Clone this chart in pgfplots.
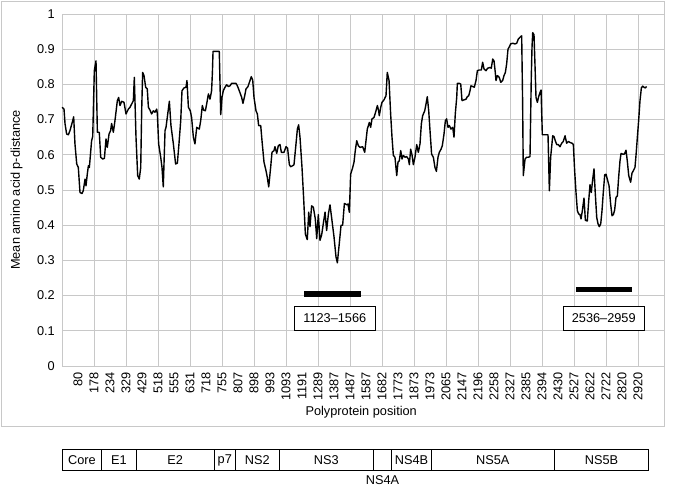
\documentclass[border=0pt]{standalone}
\usepackage{pgfplots}
\pgfplotsset{compat=1.18}
\usepackage{fontspec}
\setmainfont{Liberation Sans}
\definecolor{gridgray}{RGB}{200,200,200}
\begin{document}
\begin{tikzpicture}[font=\fontsize{12.8}{15}\selectfont]
\path[use as bounding box] (0,0) rectangle (674bp,-489bp);
\draw[gridgray, line width=1bp] (1bp,-1bp) rectangle (664bp,-426bp);
\begin{axis}[
 at={(62bp,-14bp)}, anchor=north west,
 scale only axis, width=602bp, height=352bp,
 xmin=-1, xmax=36.625, ymin=0, ymax=1,
 xtick={0,...,35},
 xticklabels={80,178,234,329,429,518,555,631,718,755,807,898,993,1093,1191,1289,1387,1487,1587,1682,1773,1873,1973,2065,2147,2196,2258,2327,2385,2394,2430,2527,2622,2722,2820,2920},
 extra x ticks={1,3,5,7,9,11,13,15,17,19,21,23,25,27,29,31,33,35},
 extra x tick labels={},
 extra x tick style={grid=major},
 ytick={0,0.1,0.2,0.3,0.4,0.5,0.6,0.7,0.8,0.9,1},
 yticklabels={0,0.1,0.2,0.3,0.4,0.5,0.6,0.7,0.8,0.9,1},
 ymajorgrids,
 grid style={gridgray, line width=1bp},
 axis line style={gridgray, line width=1bp},
 major tick length=0pt,
 xticklabel style={rotate=90, anchor=east, inner sep=0pt},
 xticklabel shift=6bp,
 yticklabel style={inner sep=0pt},
 yticklabel shift=7bp,
 /pgf/number format/assume math mode=true,
 xlabel={Polyprotein position},
 ylabel={Mean amino acid p-distance},
 xlabel style={at={(axis description cs:0.497,-0.1307)}, anchor=center},
 ylabel style={at={(axis description cs:-0.0753,0.5)}, anchor=center},
 clip=false,
]
\addplot[black, line width=1.4bp, line join=round] coordinates {
(-1.00,0.735) (-0.875,0.730) (-0.81,0.688) (-0.71,0.659) (-0.60,0.657) (-0.50,0.669) (-0.33,0.697) (-0.27,0.708)
(-0.19,0.631) (-0.08,0.574) (0.02,0.564) (0.125,0.493) (0.25,0.490) (0.33,0.498) (0.44,0.531) (0.50,0.512)
(0.58,0.545) (0.65,0.569) (0.71,0.564) (0.85,0.640) (0.92,0.652) (1.02,0.839) (1.125,0.867) (1.21,0.664)
(1.33,0.664) (1.42,0.593) (1.54,0.588) (1.65,0.590) (1.75,0.645) (1.83,0.621) (1.94,0.659) (2.04,0.669)
(2.10,0.689) (2.21,0.664) (2.31,0.697) (2.46,0.754) (2.54,0.763) (2.625,0.740) (2.73,0.752) (2.875,0.749)
(3.00,0.716) (3.15,0.730) (3.25,0.735) (3.35,0.744) (3.46,0.754) (3.52,0.820) (3.625,0.650) (3.73,0.541)
(3.83,0.531) (3.92,0.564) (3.98,0.725) (4.04,0.834) (4.125,0.825) (4.23,0.792) (4.33,0.787) (4.40,0.735)
(4.50,0.727) (4.60,0.716) (4.71,0.725) (4.81,0.721) (4.92,0.730) (4.96,0.716) (5.04,0.631) (5.17,0.593)
(5.25,0.564) (5.33,0.509) (5.44,0.669) (5.50,0.678) (5.58,0.706) (5.71,0.752) (5.81,0.683) (5.96,0.631)
(6.10,0.574) (6.21,0.576) (6.31,0.631) (6.42,0.697) (6.50,0.782) (6.625,0.790) (6.75,0.792) (6.81,0.811)
(6.90,0.735) (7.02,0.725) (7.10,0.706) (7.21,0.650) (7.31,0.631) (7.42,0.678) (7.58,0.673) (7.67,0.697)
(7.77,0.740) (7.85,0.727) (7.96,0.725) (8.04,0.744) (8.15,0.773) (8.25,0.758) (8.35,0.782) (8.40,0.834)
(8.44,0.894) (8.83,0.894) (8.92,0.714) (9.00,0.763) (9.08,0.782) (9.19,0.792) (9.29,0.799) (9.40,0.794)
(9.50,0.796) (9.60,0.803) (9.71,0.803) (9.875,0.803) (9.96,0.796) (10.08,0.782) (10.23,0.763) (10.31,0.746)
(10.42,0.768) (10.50,0.787) (10.625,0.794) (10.75,0.811) (10.83,0.822) (10.92,0.812) (11.00,0.763) (11.125,0.725)
(11.21,0.716) (11.29,0.683) (11.42,0.683) (11.50,0.640) (11.625,0.579) (11.75,0.555) (11.83,0.536) (11.92,0.509)
(12.04,0.564) (12.125,0.607) (12.25,0.612) (12.31,0.623) (12.42,0.604) (12.52,0.626) (12.625,0.629) (12.71,0.607)
(12.875,0.607) (13.00,0.623) (13.10,0.619) (13.21,0.572) (13.29,0.566) (13.42,0.569) (13.50,0.572) (13.625,0.631)
(13.71,0.673) (13.79,0.685) (13.875,0.650) (14.00,0.564) (14.10,0.479) (14.21,0.375) (14.33,0.359) (14.42,0.437)
(14.50,0.396) (14.60,0.455) (14.71,0.451) (14.83,0.418) (14.92,0.362) (15.02,0.430) (15.125,0.357) (15.23,0.373)
(15.33,0.404) (15.44,0.437) (15.54,0.385) (15.65,0.432) (15.75,0.458) (15.85,0.422) (16.00,0.367) (16.125,0.310)
(16.21,0.293) (16.33,0.348) (16.44,0.400) (16.54,0.400) (16.65,0.462) (16.79,0.458) (16.875,0.460) (16.96,0.437)
(17.04,0.545) (17.17,0.564) (17.25,0.579) (17.33,0.612) (17.42,0.640) (17.52,0.626) (17.625,0.621) (17.79,0.623)
(17.92,0.607) (18.00,0.640) (18.08,0.673) (18.21,0.692) (18.29,0.678) (18.375,0.702) (18.50,0.706) (18.625,0.725)
(18.71,0.740) (18.79,0.725) (18.83,0.711) (18.92,0.735) (19.00,0.749) (19.125,0.756) (19.25,0.768) (19.33,0.834)
(19.44,0.811) (19.54,0.716) (19.625,0.650) (19.71,0.598) (19.81,0.593) (19.92,0.541) (20.00,0.579) (20.08,0.583)
(20.17,0.612) (20.25,0.588) (20.33,0.598) (20.44,0.593) (20.54,0.595) (20.65,0.588) (20.71,0.572) (20.79,0.616)
(20.875,0.600) (20.96,0.572) (21.06,0.593) (21.17,0.629) (21.27,0.607) (21.375,0.631) (21.46,0.688) (21.54,0.711)
(21.67,0.725) (21.75,0.744) (21.83,0.765) (21.92,0.725) (22.00,0.669) (22.10,0.602) (22.21,0.593) (22.31,0.564)
(22.40,0.553) (22.50,0.593) (22.58,0.607) (22.69,0.616) (22.77,0.626) (22.875,0.659) (22.96,0.697) (23.04,0.702)
(23.125,0.678) (23.21,0.683) (23.31,0.673) (23.42,0.678) (23.50,0.650) (23.58,0.716) (23.67,0.763) (23.71,0.803)
(23.83,0.803) (23.92,0.801) (24.00,0.754) (24.125,0.756) (24.25,0.758) (24.33,0.765) (24.42,0.768) (24.50,0.782)
(24.56,0.796) (24.67,0.794) (24.77,0.792) (24.875,0.811) (24.96,0.839) (25.08,0.841) (25.21,0.841) (25.29,0.863)
(25.375,0.844) (25.50,0.839) (25.60,0.846) (25.75,0.848) (25.83,0.846) (25.92,0.872) (26.00,0.867) (26.08,0.834)
(26.125,0.811) (26.21,0.825) (26.33,0.820) (26.42,0.806) (26.54,0.811) (26.625,0.825) (26.71,0.834) (26.79,0.858)
(26.875,0.900) (26.96,0.907) (27.04,0.915) (27.17,0.917) (27.31,0.915) (27.42,0.917) (27.52,0.929) (27.625,0.934)
(27.73,0.938) (27.79,0.744) (27.83,0.541) (27.94,0.588) (28.04,0.593) (28.15,0.593) (28.25,0.595) (28.33,0.820)
(28.375,0.905) (28.42,0.947) (28.50,0.941) (28.56,0.858) (28.625,0.763) (28.71,0.749) (28.79,0.765) (28.875,0.777)
(28.94,0.784) (29.02,0.657) (29.375,0.657) (29.46,0.498) (29.54,0.593) (29.67,0.654) (29.75,0.652) (29.83,0.640)
(29.92,0.629) (30.02,0.629) (30.125,0.623) (30.23,0.633) (30.33,0.638) (30.44,0.654) (30.54,0.633) (30.65,0.638)
(30.75,0.635) (30.875,0.633) (30.96,0.629) (31.04,0.555) (31.125,0.493) (31.21,0.441) (31.29,0.432) (31.375,0.430)
(31.44,0.418) (31.52,0.441) (31.625,0.477) (31.71,0.414) (31.83,0.412) (31.92,0.470) (32.00,0.515) (32.08,0.493)
(32.17,0.531) (32.25,0.560) (32.33,0.490) (32.42,0.422) (32.50,0.404) (32.58,0.396) (32.67,0.404) (32.75,0.441)
(32.83,0.493) (32.92,0.543) (33.00,0.545) (33.08,0.531) (33.19,0.512) (33.29,0.460) (33.375,0.427) (33.46,0.430)
(33.54,0.443) (33.625,0.479) (33.71,0.483) (33.79,0.536) (33.875,0.583) (33.94,0.604) (34.04,0.602) (34.15,0.602)
(34.25,0.613) (34.33,0.583) (34.42,0.541) (34.54,0.522) (34.625,0.548) (34.71,0.555) (34.81,0.564) (34.875,0.598)
(34.96,0.650) (35.04,0.697) (35.125,0.754) (35.21,0.790) (35.29,0.795) (35.375,0.792) (35.46,0.790) (35.54,0.794)
};
\addplot[black, line width=5.7bp, forget plot] coordinates {(14.125,0.205) (17.67,0.205)};
\addplot[black, line width=5.7bp, forget plot] coordinates {(31.14,0.217) (34.6,0.217)};
\node[draw=black, line width=0.8bp, fill=white, minimum width=81.7bp, minimum height=24.7bp, inner sep=0pt] at (axis cs:16.05,0.1355) {1123–1566};
\node[draw=black, line width=0.8bp, fill=white, minimum width=81bp, minimum height=24.7bp, inner sep=0pt] at (axis cs:32.86,0.1355) {2536–2959};
\end{axis}
\begin{scope}[x=1bp, y=-1bp]
\draw[black, line width=1bp] (62.3,449) rectangle (648.7,470.7);
\foreach \xx in {101.7,136,214.3,235.3,279.3,373.3,391.7,431.3,554.3}
  \draw[black, line width=1bp] (\xx,449) -- (\xx,470.7);
\node at (82,460) {Core};
\node at (118.9,460) {E1};
\node at (175.2,460) {E2};
\node at (224.8,460) {p7};
\node at (257.3,460) {NS2};
\node at (326.3,460) {NS3};
\node at (411.5,460) {NS4B};
\node at (492.8,460) {NS5A};
\node at (601.5,460) {NS5B};
\node at (382.5,480) {NS4A};
\end{scope}
\end{tikzpicture}
\end{document}
